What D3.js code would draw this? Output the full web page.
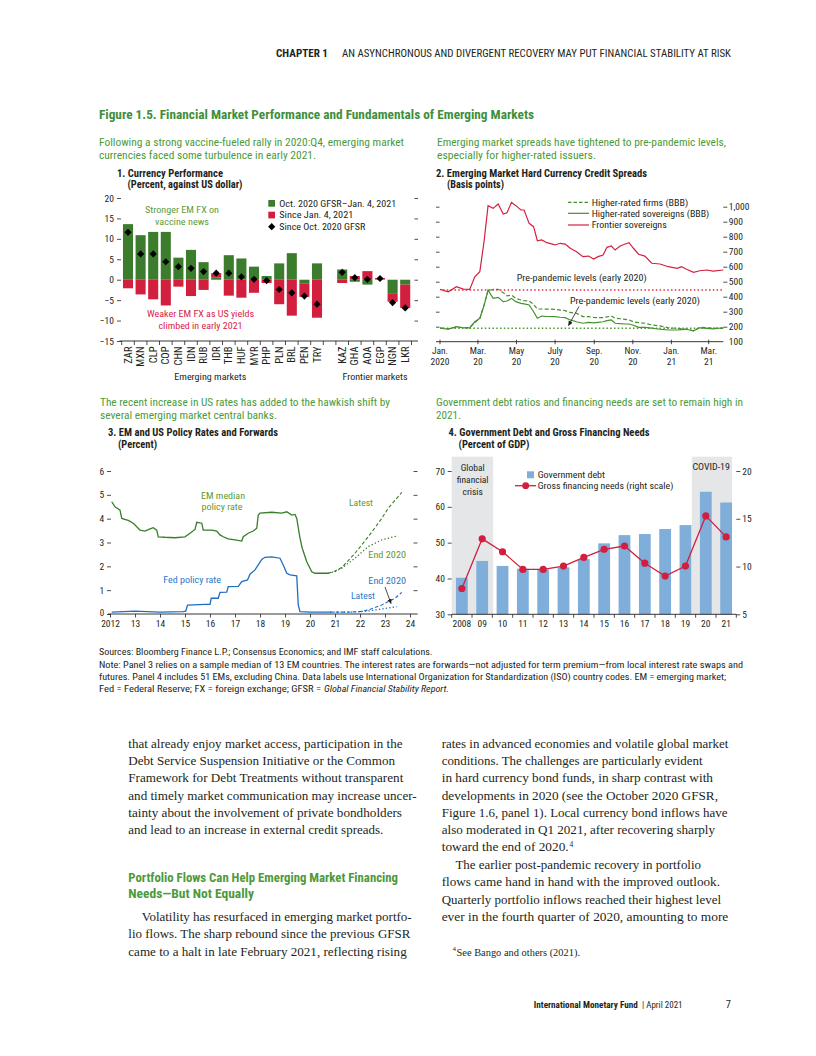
<!DOCTYPE html>
<html><head><meta charset="utf-8">
<script src="https://cdn.jsdelivr.net/npm/d3@7"></script>
<style>body{margin:0;background:#fff} svg{display:block}</style>
</head><body><svg id="page" width="816" height="1056"></svg>
<script>
// ================= DATA =================
// Panel 1
const fxEM = ["ZAR","MXN","CLP","COP","CHN","IDN","RUB","IDR","THB","HUF","MYR","PHP","PLN","BRL","PEN","TRY"];
const fxFM = ["KAZ","GHA","AOA","EGP","NGN","LKR"];
const fxOctToJan = [13.6,10.9,11.7,11.7,5.4,7.3,4.3,0.6,6.0,5.2,3.2,0.9,4.0,6.5,-1.0,4.0, 2.5,-0.5,-1.2,0.1,-3.3,-1.2];
const fxSinceJan = [-2.1,-3.6,-4.8,-6.3,-1.7,-4.0,-2.5,1.0,-3.9,-4.4,-3.2,-0.8,-6.0,-8.8,-3.2,-9.3, -0.8,0.9,2.1,0.3,-2.1,-5.7];
const fxSinceOct = [11.6,6.3,6.3,4.4,3.2,2.8,2.0,1.6,1.6,0.7,0.1,-0.2,-2.4,-3.2,-4.0,-6.0, 1.8,0.5,0.1,0.3,-5.6,-6.9];
const fxTicks = [-15,-10,-5,0,5,10,15,20];

// Panel 2
const spreadDates = ["2020-01-01","2020-01-14","2020-01-27","2020-02-07","2020-02-17","2020-02-25","2020-03-04","2020-03-11","2020-03-17","2020-03-25","2020-04-02","2020-04-10","2020-04-16","2020-04-23","2020-04-30","2020-05-08","2020-05-13","2020-05-21","2020-05-28","2020-06-03","2020-06-10","2020-06-18","2020-07-01","2020-07-09","2020-07-17","2020-07-25","2020-08-04","2020-08-14","2020-08-23","2020-08-31","2020-09-07","2020-09-15","2020-09-21","2020-09-28","2020-10-04","2020-10-12","2020-10-20","2020-10-26","2020-11-02","2020-11-10","2020-11-20","2020-12-01","2020-12-14","2020-12-27","2021-01-10","2021-01-17","2021-01-25","2021-02-05","2021-02-15","2021-02-26","2021-03-08","2021-03-24"];
const frontierSov = [449,433,467,451,449,533,567,778,1007,989,1018,951,960,1029,1007,978,978,889,867,773,778,760,745,756,751,723,700,667,671,651,667,678,729,738,711,738,751,760,723,683,671,623,618,600,589,600,583,563,573,578,571,578];
const bbbSov = [190,183,200,193,192,233,256,345,445,389,396,367,371,389,367,356,352,345,300,256,271,268,267,263,260,245,233,223,229,226,229,233,240,245,223,220,218,218,210,196,196,190,183,178,178,181,183,173,193,189,185,193];
const bbbFirms = [192,186,198,192,195,228,255,350,440,449,449,427,405,411,389,378,373,371,349,318,318,317,316,311,307,295,289,267,267,262,260,260,265,271,256,253,249,245,232,227,223,212,205,193,189,186,183,173,196,193,190,189];
const preFrontier = 445;
const preBBB = 189;
const spreadTicks = [100,200,300,400,500,600,700,800,900,1000];
const spreadDateTicks = ["2020-01-01","2020-03-01","2020-05-01","2020-07-01","2020-09-01","2020-11-01","2021-01-01","2021-03-01"];
const spreadDateLabels = [["Jan.","2020"],["Mar.","20"],["May","20"],["July","20"],["Sep.","20"],["Nov.","20"],["Jan.","21"],["Mar.","21"]];

// Panel 3
const emYears = [2012.07,2012.2,2012.4,2012.47,2012.73,2012.93,2013.07,2013.2,2013.4,2013.6,2013.73,2013.87,2013.93,2014.2,2014.6,2015.0,2015.2,2015.4,2015.47,2015.67,2015.73,2016.07,2016.27,2016.4,2016.53,2016.73,2017.0,2017.27,2017.33,2017.53,2017.73,2017.87,2017.93,2018.0,2018.47,2018.87,2019.07,2019.27,2019.4,2019.47,2019.6,2019.69,2019.87,2020.07,2020.2,2020.73];
const emRate = [4.71,4.50,4.36,4.01,3.93,3.81,3.66,3.52,3.48,3.57,3.62,3.52,3.24,3.22,3.20,3.24,3.39,3.55,3.85,3.81,3.52,3.52,3.48,3.32,3.24,3.15,3.11,3.06,3.24,3.39,3.48,3.60,4.15,4.23,4.27,4.23,4.29,4.15,4.18,4.01,3.18,2.76,2.19,1.77,1.71,1.71];
const emFwdLatestYears = [2020.73,2021.0,2021.27,2021.8,2022.33,2022.87,2023.13,2023.67];
const emFwdLatest = [1.71,1.80,1.95,2.55,3.24,4.01,4.44,5.10];
const emFwdEnd2020Years = [2020.73,2021.0,2021.27,2021.8,2022.33,2022.87,2023.47];
const emFwdEnd2020 = [1.71,1.78,1.92,2.34,2.83,3.11,3.27];
const fedYears = [2012.07,2013.0,2014.0,2014.93,2015.03,2015.1,2015.8,2016.0,2016.05,2016.33,2016.4,2016.67,2016.73,2017.13,2017.27,2017.5,2017.6,2017.8,2017.93,2018.07,2018.2,2018.47,2018.8,2018.93,2019.07,2019.2,2019.47,2019.53,2019.6,2020.0,2020.8];
const fedRate = [0.08,0.12,0.08,0.10,0.12,0.37,0.40,0.40,0.66,0.66,0.91,0.92,1.15,1.16,1.36,1.43,1.67,1.85,2.06,2.29,2.38,2.40,2.34,2.06,1.71,1.64,1.60,0.38,0.10,0.08,0.08];
const fedFwdLatestYears = [2020.8,2021.5,2022.0,2022.33,2022.87,2023.4,2023.67];
const fedFwdLatest = [0.08,0.08,0.10,0.17,0.38,0.66,0.91];
const fedFwdEnd2020Years = [2020.8,2021.67,2022.3,2022.87,2023.47];
const fedFwdEnd2020 = [0.08,0.08,0.12,0.21,0.31];
const rateTicks = [0,1,2,3,4,5,6];
const rateYearTicks = [2012,2013,2014,2015,2016,2017,2018,2019,2020,2021,2022,2023,2024];

// Panel 4
const debtYears = ["2008","09","10","11","12","13","14","15","16","17","18","19","20","21"];
const govDebt = [40.2,44.9,43.5,42.7,42.5,43.1,45.4,49.8,52.1,52.4,53.8,54.9,64.2,61.2];
const grossFinNeeds = [7.7,12.9,11.55,9.7,9.7,10.05,10.95,11.8,12.15,10.35,9.0,10.05,15.3,13.1];
const debtTicks = [30,40,50,60,70];
const gfnTicks = [5,10,15,20];

// ================= SETUP =================
const svg = d3.select('#page');
svg.append('rect').attr('width',816).attr('height',1056).attr('fill','#fff');
const COND = '"Liberation Sans Narrow","Arial Narrow","Roboto Condensed","Liberation Sans",sans-serif';
const SERIF = '"Liberation Serif","DejaVu Serif",serif';
const INK = '#231f20';
const TITLE_G = '#3f8f3c';
const SUB_G = '#4b9b3a';
const BAR_G = '#3b7d2c';
const BAR_R = '#d21f3e';
const LINE_G = '#46902f';
const BLUE = '#1f6fc0';
const LBLUE = '#7eaed9';

const defs = svg.append('defs');
defs.append('marker').attr('id','arr').attr('viewBox','0 0 10 10').attr('refX',9).attr('refY',5)
  .attr('markerUnits','userSpaceOnUse').attr('markerWidth',5).attr('markerHeight',5).attr('orient','auto')
  .append('path').attr('d','M0,0.5 L10,5 L0,9.5 z').attr('fill',INK);

function T(g, x, y, s, o = {}) {
  const t = g.append('text').attr('x', x).attr('y', y).text(s)
    .attr('font-size', o.size || 9).attr('fill', o.fill || INK)
    .attr('font-family', o.font || COND)
    .attr('font-weight', o.weight || 'normal')
    .attr('text-anchor', o.anchor || 'start');
  if (o.style) t.attr('font-style', o.style);
  if (o.len) t.attr('textLength', o.len).attr('lengthAdjust', 'spacingAndGlyphs');
  return t;
}
function styleAxis(sel, size = 9) {
  sel.select('.domain').remove();
  sel.selectAll('.tick line').attr('stroke', INK).attr('stroke-width', 0.8);
  sel.selectAll('.tick text').attr('font-family', COND).attr('font-size', size).attr('fill', INK);
}

// ================= PAGE TEXT =================
T(svg, 276, 56.5, 'CHAPTER 1', {size: 10, weight: 'bold', len: 52});
T(svg, 342, 56.5, 'AN ASYNCHRONOUS AND DIVERGENT RECOVERY MAY PUT FINANCIAL STABILITY AT RISK', {size: 10, len: 389});
T(svg, 99, 118.5, 'Figure 1.5. Financial Market Performance and Fundamentals of Emerging Markets', {size: 12.5, weight: 'bold', fill: TITLE_G, len: 435});

// subtitles
T(svg, 99, 145.5, 'Following a strong vaccine-fueled rally in 2020:Q4, emerging market', {size: 11, fill: SUB_G, len: 305});
T(svg, 99, 158.5, 'currencies faced some turbulence in early 2021.', {size: 11, fill: SUB_G, len: 217});
T(svg, 437, 145.5, 'Emerging market spreads have tightened to pre-pandemic levels,', {size: 11, fill: SUB_G, len: 289});
T(svg, 437, 158.5, 'especially for higher-rated issuers.', {size: 11, fill: SUB_G, len: 159});
T(svg, 100, 405.5, 'The recent increase in US rates has added to the hawkish shift by', {size: 11, fill: SUB_G, len: 290});
T(svg, 100, 418.5, 'several emerging market central banks.', {size: 11, fill: SUB_G, len: 177});
T(svg, 436, 405.5, 'Government debt ratios and financing needs are set to remain high in', {size: 11, fill: SUB_G, len: 307});
T(svg, 436, 418.5, '2021.', {size: 11, fill: SUB_G, len: 25});

// panel titles
T(svg, 117, 176.8, '1. Currency Performance', {size: 10, weight: 'bold', len: 106});
T(svg, 127.5, 188, '(Percent, against US dollar)', {size: 10, weight: 'bold', len: 115});
T(svg, 436, 176.8, '2. Emerging Market Hard Currency Credit Spreads', {size: 10, weight: 'bold', len: 211});
T(svg, 447, 188, '(Basis points)', {size: 10, weight: 'bold', len: 57});
T(svg, 108, 435.8, '3. EM and US Policy Rates and Forwards', {size: 10, weight: 'bold', len: 170});
T(svg, 118, 448, '(Percent)', {size: 10, weight: 'bold', len: 39});
T(svg, 448.5, 435.8, '4. Government Debt and Gross Financing Needs', {size: 10, weight: 'bold', len: 201});
T(svg, 458.5, 448, '(Percent of GDP)', {size: 10, weight: 'bold', len: 71});

// ================= PANEL 1 =================
(function(){
  const g = svg.append('g');
  const cats = [...fxEM, 'gap', ...fxFM];
  const x = d3.scaleBand().domain(cats).range([121.7, 411.5]).paddingInner(0.2).paddingOuter(0.1);
  const y = d3.scaleLinear().domain([-15, 20]).range([341, 198]);
  const all = [...fxEM, ...fxFM];
  const rows = all.map((c, i) => ({c, a: fxOctToJan[i], b: fxSinceJan[i], t: fxSinceOct[i]}));
  const st = d3.stack().keys(['a','b']).offset(d3.stackOffsetDiverging)(rows);
  st.forEach((layer, k) => {
    g.append('g').selectAll('rect').data(layer).join('rect')
      .attr('x', d => x(d.data.c)).attr('width', x.bandwidth())
      .attr('y', d => y(Math.max(d[0], d[1])))
      .attr('height', d => Math.abs(y(d[0]) - y(d[1])))
      .attr('fill', k ? BAR_R : BAR_G);
  });
  g.append('g').selectAll('path').data(rows).join('path')
    .attr('d', d3.symbol(d3.symbolSquare, 26)())
    .attr('transform', d => `translate(${x(d.c) + x.bandwidth()/2},${y(d.t)}) rotate(45)`)
    .attr('fill', '#000');
  // axes
  const ya = g.append('g').attr('transform', 'translate(121,0)')
    .call(d3.axisLeft(y).tickValues(fxTicks).tickSize(4).tickPadding(3).tickFormat(d => d < 0 ? '\u2212' + Math.abs(d) : d));
  styleAxis(ya, 9.5);
  const yr = g.append('g').attr('transform', 'translate(418,0)')
    .call(d3.axisLeft(y).tickValues(fxTicks.slice(1)).tickSize(3.5).tickFormat(''));
  styleAxis(yr);
  g.append('line').attr('x1', 119.5).attr('x2', 418).attr('y1', y(-15)).attr('y2', y(-15)).attr('stroke', INK).attr('stroke-width', 0.9);
  const bounds = cats.map(c => x(c) - x.step() * x.paddingInner() / 2).concat([x(cats[cats.length-1]) + x.bandwidth() + x.step()*x.paddingInner()/2]);
  g.append('g').selectAll('line').data(bounds).join('line')
    .attr('x1', d => d).attr('x2', d => d).attr('y1', y(-15)).attr('y2', y(-15) + 4)
    .attr('stroke', INK).attr('stroke-width', 0.8);
  all.forEach(c => {
    g.append('text').attr('transform', `translate(${x(c) + x.bandwidth()/2},346.5) rotate(-90)`)
      .attr('text-anchor', 'end').attr('dy', '0.35em').attr('font-family', COND).attr('font-size', 10.5)
      .attr('fill', INK).text(c);
  });
  T(g, 210.3, 379.5, 'Emerging markets', {size: 9.5, anchor: 'middle', len: 72});
  T(g, 375, 379.5, 'Frontier markets', {size: 9.5, anchor: 'middle', len: 65});
  // annotations
  T(g, 182, 213.3, 'Stronger EM FX on', {size: 9.5, fill: '#5d9b3a', anchor: 'middle', len: 74});
  T(g, 182, 225, 'vaccine news', {size: 9.5, fill: '#5d9b3a', anchor: 'middle', len: 54});
  T(g, 200.5, 316.8, 'Weaker EM FX as US yields', {size: 9.5, fill: '#d8224a', anchor: 'middle', len: 107});
  T(g, 200.5, 328.5, 'climbed in early 2021', {size: 9.5, fill: '#d8224a', anchor: 'middle', len: 84});
  // legend
  g.append('rect').attr('x', 268.3).attr('y', 200).attr('width', 6.7).attr('height', 6.7).attr('fill', BAR_G);
  g.append('rect').attr('x', 268.3).attr('y', 211.7).attr('width', 6.7).attr('height', 6.7).attr('fill', BAR_R);
  g.append('path').attr('d', d3.symbol(d3.symbolSquare, 26)()).attr('transform', 'translate(271.7,226.7) rotate(45)').attr('fill', '#000');
  T(g, 279.3, 206.6, 'Oct. 2020 GFSR\u2013Jan. 4, 2021', {size: 9.5, len: 117});
  T(g, 279.3, 218.3, 'Since Jan. 4, 2021', {size: 9.5, len: 74});
  T(g, 279.3, 230, 'Since Oct. 2020 GFSR', {size: 9.5, len: 86});
})();

// ================= PANEL 2 =================
(function(){
  const g = svg.append('g');
  const parse = d3.timeParse('%Y-%m-%d');
  const dates = spreadDates.map(parse);
  const x = d3.scaleTime().domain([parse('2020-01-01'), parse('2021-03-01')]).range([440, 708.7]);
  const y = d3.scaleLinear().domain([100, 1000]).range([341.7, 206.7]);
  const line = d3.line().x(d => x(d[0])).y(d => y(d[1]));
  const xEnd = x(dates[dates.length - 1]);
  // reference lines
  g.append('line').attr('x1', 443).attr('x2', xEnd).attr('y1', y(preFrontier)).attr('y2', y(preFrontier))
    .attr('stroke', '#e0303f').attr('stroke-width', 1.5).attr('stroke-dasharray', '1.5,2.3');
  g.append('line').attr('x1', 443).attr('x2', xEnd).attr('y1', y(preBBB)).attr('y2', y(preBBB))
    .attr('stroke', '#4a9a30').attr('stroke-width', 1.5).attr('stroke-dasharray', '1.5,2.3');
  g.append('path').attr('d', line(dates.map((d,i) => [d, bbbFirms[i]]))).attr('fill','none')
    .attr('stroke', LINE_G).attr('stroke-width', 1.2).attr('stroke-dasharray', '4,2.2');
  g.append('path').attr('d', line(dates.map((d,i) => [d, bbbSov[i]]))).attr('fill','none')
    .attr('stroke', LINE_G).attr('stroke-width', 1.2);
  g.append('path').attr('d', line(dates.map((d,i) => [d, frontierSov[i]]))).attr('fill','none')
    .attr('stroke', '#d6203f').attr('stroke-width', 1.2);
  // axes
  const yr = g.append('g').attr('transform', 'translate(723.3,0)')
    .call(d3.axisRight(y).tickValues(spreadTicks).tickSize(4).tickPadding(1.5).tickFormat(d3.format(',')));
  styleAxis(yr, 9.5);
  yr.selectAll('.tick').filter(d => d === 100).select('line').remove();
  const yl = g.append('g').attr('transform', 'translate(436,0)')
    .call(d3.axisRight(y).tickValues(spreadTicks.slice(1)).tickSize(3.5).tickFormat(''));
  styleAxis(yl);
  g.append('line').attr('x1', 436).attr('x2', 723.3).attr('y1', y(100)).attr('y2', y(100)).attr('stroke', INK).attr('stroke-width', 0.9);
  const tv = spreadDateTicks.map(parse);
  g.append('g').selectAll('line').data(tv).join('line')
    .attr('x1', d => x(d)).attr('x2', d => x(d)).attr('y1', y(100) - 2).attr('y2', y(100) + 2.5)
    .attr('stroke', INK).attr('stroke-width', 0.8);
  tv.forEach((d, i) => {
    T(g, x(d), 353.5, spreadDateLabels[i][0], {size: 9.5, anchor: 'middle'});
    T(g, x(d), 365, spreadDateLabels[i][1], {size: 9.5, anchor: 'middle'});
  });
  // labels
  T(g, 516.7, 280.8, 'Pre-pandemic levels (early 2020)', {size: 9.5, len: 130});
  T(g, 570, 304.2, 'Pre-pandemic levels (early 2020)', {size: 9.5, len: 130});
  g.append('line').attr('x1', 579).attr('y1', 306.5).attr('x2', 568.5).attr('y2', 325.5)
    .attr('stroke', INK).attr('stroke-width', 0.8).attr('marker-end', 'url(#arr)');
  // legend
  g.append('line').attr('x1', 568).attr('x2', 589).attr('y1', 202.3).attr('y2', 202.3).attr('stroke', LINE_G).attr('stroke-width', 1.2).attr('stroke-dasharray', '3.5,2');
  g.append('line').attr('x1', 568).attr('x2', 589).attr('y1', 213.3).attr('y2', 213.3).attr('stroke', LINE_G).attr('stroke-width', 1.2);
  g.append('line').attr('x1', 568).attr('x2', 589).attr('y1', 225).attr('y2', 225).attr('stroke', '#d6203f').attr('stroke-width', 1.2);
  T(g, 591.7, 205.6, 'Higher-rated firms (BBB)', {size: 9.5, len: 96.6});
  T(g, 591.7, 216.6, 'Higher-rated sovereigns (BBB)', {size: 9.5, len: 117.6});
  T(g, 591.7, 228.3, 'Frontier sovereigns', {size: 9.5, len: 75});
})();

// ================= PANEL 3 =================
(function(){
  const g = svg.append('g');
  const x = d3.scaleLinear().domain([2012, 2024]).range([110, 410]);
  const y = d3.scaleLinear().domain([0, 6]).range([614, 471]);
  const line = d3.line().x(d => x(d[0])).y(d => y(d[1]));
  const zip = (a, b) => a.map((v, i) => [v, b[i]]);
  const EMG = '#3a7d2a';
  g.append('path').attr('d', line(zip(emFwdEnd2020Years, emFwdEnd2020))).attr('fill','none')
    .attr('stroke', EMG).attr('stroke-width', 1.3).attr('stroke-dasharray', '1.3,2.2');
  g.append('path').attr('d', line(zip(emFwdLatestYears, emFwdLatest))).attr('fill','none')
    .attr('stroke', EMG).attr('stroke-width', 1.1).attr('stroke-dasharray', '3.5,2.2');
  g.append('path').attr('d', line(zip(emYears, emRate))).attr('fill','none')
    .attr('stroke', EMG).attr('stroke-width', 1.3);
  g.append('path').attr('d', line(zip(fedFwdEnd2020Years, fedFwdEnd2020))).attr('fill','none')
    .attr('stroke', BLUE).attr('stroke-width', 1.3).attr('stroke-dasharray', '1.3,2.2');
  g.append('path').attr('d', line(zip(fedFwdLatestYears, fedFwdLatest))).attr('fill','none')
    .attr('stroke', BLUE).attr('stroke-width', 1.1).attr('stroke-dasharray', '3.5,2.2');
  g.append('path').attr('d', line(zip(fedYears, fedRate))).attr('fill','none')
    .attr('stroke', BLUE).attr('stroke-width', 1.3);
  // axes
  const yl = g.append('g').attr('transform', 'translate(111,0)')
    .call(d3.axisLeft(y).tickValues(rateTicks).tickSize(4).tickPadding(2.7).tickFormat(d3.format('d')));
  styleAxis(yl, 9.5);
  yl.selectAll('.tick').filter(d => d === 0).select('text').attr('y', -1.5).attr('font-size', 9);
  const yr = g.append('g').attr('transform', 'translate(413.5,0)')
    .call(d3.axisRight(y).tickValues(rateTicks.slice(1)).tickSize(4).tickFormat(''));
  styleAxis(yr);
  g.append('line').attr('x1', 108).attr('x2', 417.7).attr('y1', y(0)).attr('y2', y(0)).attr('stroke', INK).attr('stroke-width', 0.9);
  const xa = g.append('g').attr('transform', `translate(0,${y(0)})`)
    .call(d3.axisBottom(x).tickValues(rateYearTicks).tickSize(3.5).tickPadding(2.5)
      .tickFormat(d => d === 2012 ? '2012' : String(d).slice(2)));
  styleAxis(xa, 9.5);
  // labels
  T(g, 223, 498.5, 'EM median', {size: 9.5, fill: '#5e9a2e', anchor: 'middle', len: 44});
  T(g, 222, 510, 'policy rate', {size: 9.5, fill: '#5e9a2e', anchor: 'middle', len: 41});
  T(g, 349, 505.8, 'Latest', {size: 9.5, fill: '#5e9a2e', len: 24});
  T(g, 368.3, 557.8, 'End 2020', {size: 9.5, fill: '#5e9a2e', len: 37.7});
  T(g, 163.3, 582.5, 'Fed policy rate', {size: 9.5, fill: '#2a78cc', len: 57.7});
  T(g, 368.3, 583.5, 'End 2020', {size: 9.5, fill: '#2a78cc', len: 37.7});
  T(g, 351, 598.5, 'Latest', {size: 9.5, fill: '#2a78cc', len: 24});
  g.append('line').attr('x1', 385).attr('y1', 587).attr('x2', 391).attr('y2', 603.5)
    .attr('stroke', INK).attr('stroke-width', 0.8).attr('marker-end', 'url(#arr)');
})();

// ================= PANEL 4 =================
(function(){
  const g = svg.append('g');
  const x = d3.scaleBand().domain(debtYears).range([451.7, 736.3]).paddingInner(0.42).paddingOuter(0.21);
  const y = d3.scaleLinear().domain([30, 70]).range([614.3, 471]);
  const yR = d3.scaleLinear().domain([5, 20]).range([614.3, 471]);
  const st = x.step(), bw = x.bandwidth();
  // shading
  g.append('rect').attr('x', x('2008') - st*0.21).attr('width', (x('09') + bw + st*0.25) - (x('2008') - st*0.21))
    .attr('y', y(74)).attr('height', y(30) - y(74)).attr('fill', '#e5e6e8');
  g.append('rect').attr('x', x('20') - st*0.4).attr('width', (x('21') + bw) - (x('20') - st*0.4))
    .attr('y', y(74)).attr('height', y(30) - y(74)).attr('fill', '#e5e6e8');
  g.append('g').selectAll('rect').data(debtYears).join('rect')
    .attr('x', d => x(d)).attr('width', bw)
    .attr('y', (d, i) => y(govDebt[i])).attr('height', (d, i) => y(30) - y(govDebt[i]))
    .attr('fill', LBLUE);
  const pts = debtYears.map((d, i) => [x(d) + bw/2, yR(grossFinNeeds[i])]);
  g.append('path').attr('d', d3.line()(pts)).attr('fill','none').attr('stroke', BAR_R).attr('stroke-width', 1.3);
  g.append('g').selectAll('circle').data(pts).join('circle')
    .attr('cx', d => d[0]).attr('cy', d => d[1]).attr('r', 3.6).attr('fill', BAR_R);
  // axes
  const yl = g.append('g').attr('transform', 'translate(451.7,0)')
    .call(d3.axisLeft(y).tickValues(debtTicks).tickSize(4).tickPadding(2.7));
  styleAxis(yl, 9.5);
  const yr = g.append('g').attr('transform', 'translate(736.3,0)')
    .call(d3.axisRight(yR).tickValues(gfnTicks).tickSize(4).tickPadding(2));
  styleAxis(yr, 9.5);
  g.append('line').attr('x1', 451.7).attr('x2', 736.3).attr('y1', y(30)).attr('y2', y(30)).attr('stroke', INK).attr('stroke-width', 0.9);
  const bounds = debtYears.map(d => x(d) - st*0.21).concat([x('21') + bw + st*0.21]);
  g.append('g').selectAll('line').data(bounds).join('line')
    .attr('x1', d => d).attr('x2', d => d).attr('y1', y(30)).attr('y2', y(30) + 3.5)
    .attr('stroke', INK).attr('stroke-width', 0.8);
  debtYears.forEach(d => T(g, x(d) + bw/2, 627.3, d, {size: 9.5, anchor: 'middle'}));
  // labels
  T(g, 472.7, 471, 'Global', {size: 9.5, anchor: 'middle'});
  T(g, 472.7, 482.8, 'financial', {size: 9.5, anchor: 'middle'});
  T(g, 472.7, 495, 'crisis', {size: 9.5, anchor: 'middle'});
  T(g, 711.2, 470, 'COVID-19', {size: 9.5, anchor: 'middle', len: 37.5});
  // legend
  g.append('rect').attr('x', 527).attr('y', 471.3).attr('width', 7).attr('height', 7).attr('fill', LBLUE);
  T(g, 537.7, 477.6, 'Government debt', {size: 9.5, len: 67.3});
  g.append('line').attr('x1', 515).attr('x2', 536).attr('y1', 485.7).attr('y2', 485.7).attr('stroke', BAR_R).attr('stroke-width', 1.3);
  g.append('circle').attr('cx', 525.7).attr('cy', 485.7).attr('r', 3.4).attr('fill', BAR_R);
  T(g, 537.7, 489, 'Gross financing needs (right scale)', {size: 9.5, len: 135.6});
})();

// ================= NOTES =================
T(svg, 99, 655.3, 'Sources: Bloomberg Finance L.P.; Consensus Economics; and IMF staff calculations.', {size: 8.8, len: 333.5});
T(svg, 99, 667.5, 'Note: Panel 3 relies on a sample median of 13 EM countries. The interest rates are forwards\u2014not adjusted for term premium\u2014from local interest rate swaps and', {size: 8.8, len: 644});
T(svg, 99, 679.5, 'futures. Panel 4 includes 51 EMs, excluding China. Data labels use International Organization for Standardization (ISO) country codes. EM = emerging market;', {size: 8.8, len: 627});
T(svg, 99, 691.5, 'Fed = Federal Reserve; FX = foreign exchange; GFSR = ', {size: 8.8, len: 222});
T(svg, 324, 691.5, 'Global Financial Stability Report.', {size: 8.8, style: 'italic', len: 125});

// ================= BODY TEXT =================
const bodyLeft = [
  ['that already enjoy market access, participation in the', 128.3, 748, 274.2],
  ['Debt Service Suspension Initiative or the Common', 128.3, 765, 266.7],
  ['Framework for Debt Treatments without transparent', 128.3, 782.3, 275],
  ['and timely market communication may increase uncer-', 128.3, 800, 288.4],
  ['tainty about the involvement of private bondholders', 128.3, 816.7, 273.7],
  ['and lead to an increase in external credit spreads.', 128.3, 834, 255],
  ['Volatility has resurfaced in emerging market portfo-', 141.7, 921, 270],
  ['lio flows. The sharp rebound since the previous GFSR', 128.3, 938, 282.1],
  ['came to a halt in late February 2021, reflecting rising', 128.3, 956, 278.4]
];
const bodyRight = [
  ['rates in advanced economies and volatile global market', 441.7, 748, 286.6],
  ['conditions. The challenges are particularly evident', 441.7, 765, 260.8],
  ['in hard currency bond funds, in sharp contrast with', 441.7, 782.3, 271.3],
  ['developments in 2020 (see the October 2020 GFSR,', 441.7, 800, 276.3],
  ['Figure 1.6, panel 1). Local currency bond inflows have', 441.7, 816.7, 285.8],
  ['also moderated in Q1 2021, after recovering sharply', 441.7, 834, 273.3],
  ['toward the end of 2020.', 441.7, 851.3, 127],
  ['The earlier post-pandemic recovery in portfolio', 455.4, 869, 245.6],
  ['flows came hand in hand with the improved outlook.', 441.7, 886, 278.3],
  ['Quarterly portfolio inflows reached their highest level', 441.7, 904, 279.3],
  ['ever in the fourth quarter of 2020, amounting to more', 441.7, 921.3, 286.6]
];
[...bodyLeft, ...bodyRight].forEach(([s, x, y, w]) => T(svg, x, y, s, {size: 12.6, font: SERIF, len: w}));
T(svg, 569.5, 846.5, '4', {size: 7.5, font: SERIF});
T(svg, 128.3, 881.5, 'Portfolio Flows Can Help Emerging Market Financing', {size: 13, weight: 'bold', fill: '#4c9a3a', len: 269.7});
T(svg, 128.3, 897.5, 'Needs\u2014But Not Equally', {size: 13, weight: 'bold', fill: '#4c9a3a', len: 125.7});
T(svg, 452.5, 951, '4', {size: 7, font: SERIF});
T(svg, 456.5, 955.5, 'See Bango and others (2021).', {size: 10.5, font: SERIF, len: 123.5});
T(svg, 533.8, 1007.5, 'International Monetary Fund', {size: 8.4, weight: 'bold', len: 104});
T(svg, 642, 1007.5, '| April 2021', {size: 9.5, len: 40.5});
T(svg, 731, 1007.5, '7', {size: 10.5, anchor: 'end'});
</script></body></html>
